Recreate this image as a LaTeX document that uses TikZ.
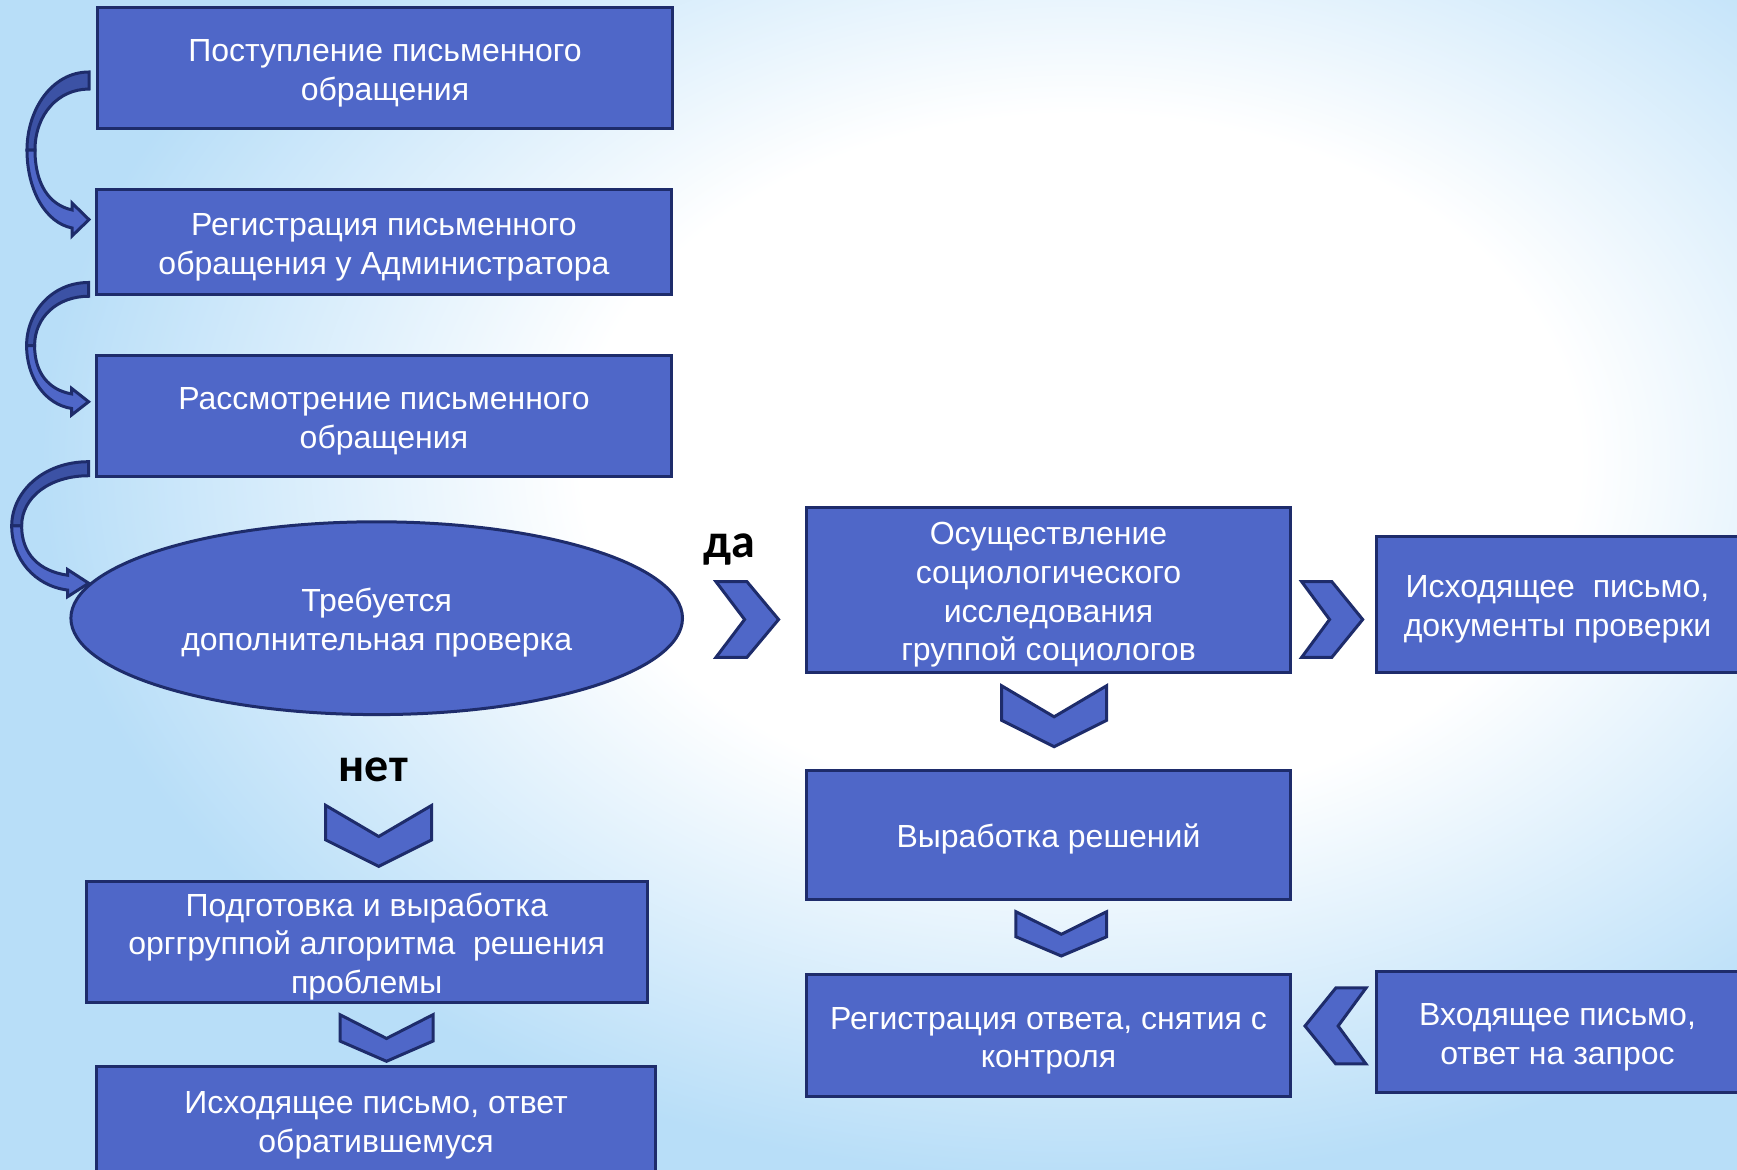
\documentclass[tikz,border=0pt]{standalone}
\usepackage{fontspec}
\setmainfont{Liberation Sans}
\newfontfamily\lblfont{Carlito}
\usepackage{tikz}
\usetikzlibrary{shapes.geometric}
\usetikzlibrary{positioning}
\usetikzlibrary{calc}
\definecolor{boxblue}{RGB}{79,103,200}
\definecolor{boxedge}{RGB}{30,44,107}
\definecolor{arrowdark}{RGB}{60,82,165}
\definecolor{bgblue}{RGB}{184,222,248}
\pgfdeclareradialshading{glow}{\pgfpoint{0bp}{0bp}}{color(0bp)=(white); color(12bp)=(white); color(25bp)=(bgblue); color(50bp)=(bgblue)}
\tikzset{
  % Common styles for the scheme
  box/.style={draw=boxedge, line width=1.5pt, fill=boxblue, rectangle, text=white,
    inner sep=0pt, font=\fontsize{16}{19.4}\selectfont},
  oval/.style={box, ellipse},
  chev/.style={draw=boxedge, line width=1.5pt, fill=boxblue},
  lbl/.style={font=\lblfont\bfseries\fontsize{24}{24}\selectfont, text=black}
}
% centred lines of a box
\newcommand{\btext}[1]{\vbox{\vskip5pt\hbox{\begin{tabular}{@{}c@{}}#1\end{tabular}}}}
% chevron pointing right: left x, top y, width, height
\newcommand{\chevright}[4]{%
  \begin{scope}[shift={(#1,#2)}, xscale=#3, yscale=#4]
    \draw[chev] (0,0) -- (0.495,0) -- (1,0.5) -- (0.495,1) -- (0,1) -- (0.457,0.5) -- cycle;
  \end{scope}}
% chevron pointing down
\newcommand{\chevdown}[4]{%
  \begin{scope}[shift={(#1,#2)}, xscale=#3, yscale=#4]
    \draw[chev] (0,0) -- (0.5,0.51) -- (1,0) -- (1,0.566) -- (0.5,1) -- (0,0.566) -- cycle;
  \end{scope}}
% bent arrow on the left side
\newcommand{\bentarrow}[4]{%
  \begin{scope}[shift={(#1,#2)}, xscale=#3, yscale=#4]
    \draw[chev, fill=arrowdark] (1,0) .. controls (0.4,0) and (0,0.23) .. (0,0.476)
      -- (0.129,0.476) .. controls (0.129,0.26) and (0.5,0.104) .. (1,0.104) -- cycle;
    \draw[chev] (0,0.476) .. controls (0,0.72) and (0.3,0.92) .. (0.726,0.951)
      -- (0.726,1) -- (1,0.9) -- (0.726,0.799) -- (0.726,0.841)
      .. controls (0.35,0.81) and (0.129,0.68) .. (0.129,0.476) -- cycle;
  \end{scope}}

\begin{document}
\begin{tikzpicture}[x=0.5pt, y=-0.5pt]
  % Background
  \useasboundingbox (0,0) rectangle (1737,1170);
  \fill[bgblue] (0,0) rectangle (1737,1170);
  \shade[shading=glow] (1080,460) ellipse [x radius=520pt, y radius=360pt];

  % Define nodes
  \node[box, minimum width=287.5pt, minimum height=60.4pt] (post) at (385,68.2) {\btext{Поступление письменного\\обращения}};
  \node[box, minimum width=287.5pt, minimum height=52.7pt] (regp) at (383.9,242) {\btext{Регистрация письменного\\обращения у Администратора}};
  \node[box, minimum width=287.5pt, minimum height=60.4pt] (rasm) at (383.9,416) {\btext{Рассмотрение письменного\\обращения}};
  \node[oval, minimum width=305.8pt, minimum height=96.4pt] (check) at (376.7,618.2) {\btext{Требуется\\дополнительная проверка}};
  \node[box, minimum width=280.3pt, minimum height=60.4pt, inner ysep=-1.5pt] (podg) at (366.7,942.2) {\btext{Подготовка и выработка\\орггруппой алгоритма\ \ решения\\проблемы}};
  \node[box, minimum width=279.7pt, minimum height=53.2pt] (otvet) at (376.1,1120) {\btext{Исходящее письмо, ответ\\обратившемуся}};
  \node[box, minimum width=242pt, minimum height=82.5pt] (soc) at (1048.5,589.9) {\btext{Осуществление\\социологического\\исследования\\группой социологов}};
  \node[box, minimum width=181.5pt, minimum height=68.1pt] (docs) at (1557.5,604.3) {\btext{Исходящее\ \ письмо,\\документы проверки}};
  \node[box, minimum width=242pt, minimum height=64.3pt] (resh) at (1048.5,835.2) {\btext{Выработка решений}};
  \node[box, minimum width=242pt, minimum height=60.9pt] (regotv) at (1048.5,1035.8) {\btext{Регистрация ответа, снятия с\\контроля}};
  \node[box, minimum width=181.5pt, minimum height=60.4pt] (vhod) at (1557.5,1031.9) {\btext{Входящее письмо,\\ответ на запрос}};
  \node[lbl] (yes) at (729,549.5) {да};
  \node[lbl] (no) at (373.3,770) {нет};

  % Define connections
  \bentarrow{27}{72}{62}{164}
  \bentarrow{26.6}{282.5}{62}{132.5}
  \bentarrow{11.7}{461.7}{77}{135}
  \chevright{716}{581.7}{62.6}{75.6}
  \chevright{1301.7}{581.7}{61}{75.6}
  \chevright{1366}{988}{-61}{76}
  \chevdown{325.7}{805.4}{106}{61}
  \chevdown{1001.5}{685.7}{105.2}{61}
  \chevdown{1015.9}{911.7}{90.8}{44.3}
  \chevdown{340}{1014.7}{93}{46.6}
\end{tikzpicture}
\end{document}
